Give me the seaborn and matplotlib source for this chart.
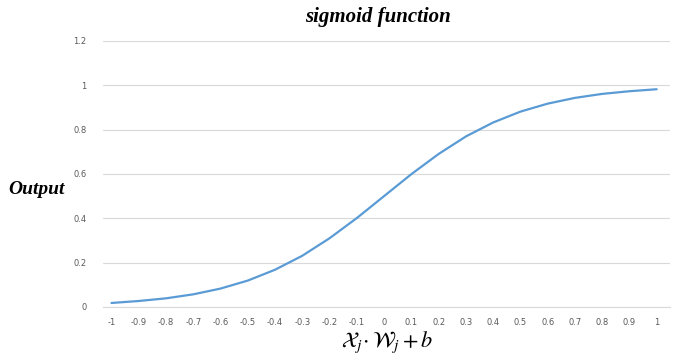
import matplotlib
matplotlib.use("Agg")
import matplotlib.pyplot as plt
import seaborn as sns
import pandas as pd

x_labels = ["-1", "-0.9", "-0.8", "-0.7", "-0.6", "-0.5", "-0.4", "-0.3", "-0.2", "-0.1",
            "0", "0.1", "0.2", "0.3", "0.4", "0.5", "0.6", "0.7", "0.8", "0.9", "1"]
y_values = [0.018, 0.027, 0.039, 0.057, 0.083, 0.119, 0.168, 0.231, 0.310, 0.401,
            0.500, 0.599, 0.690, 0.769, 0.832, 0.881, 0.917, 0.943, 0.961, 0.973, 0.982]
y_ticks = [0, 0.2, 0.4, 0.6, 0.8, 1, 1.2]
y_tick_labels = ["0", "0.2", "0.4", "0.6", "0.8", "1", "1.2"]

sns.set_theme(style="white")
plt.rcParams["mathtext.fontset"] = "stix"

df = pd.DataFrame({"pos": range(len(x_labels)), "y": y_values})

fig = plt.figure(figsize=(6.84, 3.62), dpi=100)
ax = fig.add_axes([0.151, 0.152, 0.829, 0.735])
sns.lineplot(data=df, x="pos", y="y", ax=ax, color="#5B9BD5", linewidth=1.6)

ax.set_xlim(-0.3, len(x_labels) - 0.5)
ax.set_ylim(0, 1.2)
ax.set_xticks(range(len(x_labels)))
ax.set_xticklabels(x_labels)
ax.set_yticks(y_ticks)
ax.set_yticklabels(y_tick_labels)
ax.tick_params(axis="both", labelsize=6, colors="#595959", length=0)
ax.tick_params(axis="y", pad=12)
ax.tick_params(axis="x", pad=8)
ax.yaxis.grid(True, color="#D9D9D9", linewidth=0.8)
ax.set_axisbelow(True)
for s in ["top", "right", "left"]:
    ax.spines[s].set_visible(False)
ax.spines["bottom"].set_color("#D9D9D9")
ax.spines["bottom"].set_linewidth(0.8)
ax.set_xlabel("")
ax.set_ylabel("")

fig.text(378 / 684, 1 - 17 / 362, "sigmoid function", ha="center", va="center",
         fontsize=15, style="italic", weight="bold", family="Liberation Serif", color="black")
fig.text(36 / 684, 1 - 190 / 362, "Output", ha="center", va="center",
         fontsize=14, style="italic", weight="bold", family="Liberation Serif", color="black")
fig.text(387 / 684, 1 - 342 / 362, r"$\mathcal{X}_j\!\cdot\mathcal{W}_j+b$", ha="center",
         va="center", fontsize=16, color="black")

fig.savefig("out.png", dpi=100)
